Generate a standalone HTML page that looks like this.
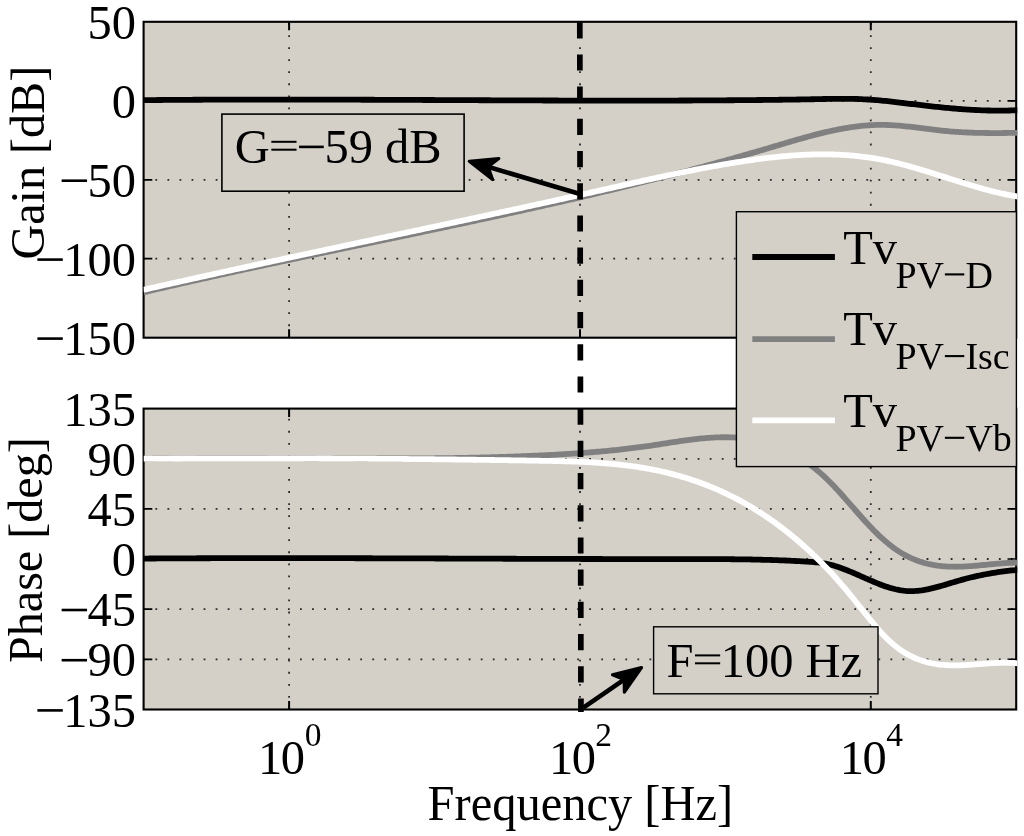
<!DOCTYPE html>
<html><head><meta charset="utf-8"><style>
html,body{margin:0;padding:0;background:#fff;overflow:hidden;}
svg{display:block;will-change:transform;}
text{font-family:"Liberation Serif",serif;fill:#000;}
</style></head><body>
<svg width="1024" height="836" viewBox="0 0 1024 836">
<defs><clipPath id="c1"><rect x="143.6" y="21.8" width="873.7" height="315.9"/></clipPath><clipPath id="c2"><rect x="143.6" y="408.6" width="873.7" height="300.9"/></clipPath></defs>
<rect x="0" y="0" width="1024" height="836" fill="#fff"/>
<rect x="143.6" y="21.8" width="872.6" height="315.9" fill="#d4d0c8"/>
<g stroke="#2a2a2a" stroke-width="1.8" stroke-dasharray="1.8 10.25" fill="none">
<path d="M143.6 100.8H1016.2" stroke-dashoffset="-11.8"/>
<path d="M143.6 179.8H1016.2" stroke-dashoffset="-11.8"/>
<path d="M143.6 258.7H1016.2" stroke-dashoffset="-11.8"/>
<path d="M289.1 21.8V337.7" stroke-dashoffset="-1.3"/>
<path d="M580.0 21.8V337.7" stroke-dashoffset="-1.3"/>
<path d="M870.8 21.8V337.7" stroke-dashoffset="-1.3"/>
</g>
<g stroke="#000" fill="none"><rect x="143.6" y="21.8" width="872.6" height="315.9" stroke-width="2.1"/></g>
<g stroke="#000" fill="none"><path stroke-width="1.7" d="M143.6 100.8h8.7M1016.2 100.8h-8.7M143.6 179.8h8.7M1016.2 179.8h-8.7M143.6 258.7h8.7M1016.2 258.7h-8.7"/><path stroke-width="2" d="M289.1 21.8v8.5M289.1 337.7v-8.5M580.0 21.8v8.5M580.0 337.7v-8.5M870.8 21.8v8.5M870.8 337.7v-8.5"/></g>
<g clip-path="url(#c1)" fill="none" stroke-width="5.8" stroke-linejoin="round">
<path d="M143.6 100.13 L145.6 100.12 L147.6 100.10 L149.6 100.08 L151.6 100.06 L153.6 100.04 L155.6 100.03 L157.6 100.01 L159.6 99.99 L161.6 99.98 L163.6 99.96 L165.6 99.95 L167.6 99.93 L169.6 99.92 L171.6 99.90 L173.6 99.89 L175.6 99.88 L177.6 99.86 L179.6 99.85 L181.6 99.84 L183.6 99.83 L185.6 99.81 L187.6 99.80 L189.6 99.79 L191.6 99.78 L193.6 99.77 L195.6 99.76 L197.6 99.75 L199.6 99.74 L201.6 99.73 L203.6 99.72 L205.6 99.71 L207.6 99.70 L209.6 99.70 L211.6 99.69 L213.6 99.68 L215.6 99.67 L217.6 99.66 L219.6 99.66 L221.6 99.65 L223.6 99.65 L225.6 99.64 L227.6 99.63 L229.6 99.63 L231.6 99.62 L233.6 99.62 L235.6 99.61 L237.6 99.61 L239.6 99.60 L241.6 99.60 L243.6 99.60 L245.6 99.59 L247.6 99.59 L249.6 99.59 L251.6 99.58 L253.6 99.58 L255.6 99.58 L257.6 99.58 L259.6 99.58 L261.6 99.57 L263.6 99.57 L265.6 99.57 L267.6 99.57 L269.6 99.57 L271.6 99.57 L273.6 99.57 L275.6 99.57 L277.6 99.57 L279.6 99.57 L281.6 99.57 L283.6 99.57 L285.6 99.57 L287.6 99.57 L289.6 99.57 L291.6 99.58 L293.6 99.58 L295.6 99.58 L297.6 99.58 L299.6 99.58 L301.6 99.59 L303.6 99.59 L305.6 99.59 L307.6 99.59 L309.6 99.60 L311.6 99.60 L313.6 99.60 L315.6 99.61 L317.6 99.61 L319.6 99.62 L321.6 99.62 L323.6 99.62 L325.6 99.63 L327.6 99.63 L329.6 99.64 L331.6 99.64 L333.6 99.65 L335.6 99.65 L337.6 99.66 L339.6 99.66 L341.6 99.67 L343.6 99.68 L345.6 99.68 L347.6 99.69 L349.6 99.69 L351.6 99.70 L353.6 99.71 L355.6 99.71 L357.6 99.72 L359.6 99.72 L361.6 99.73 L363.6 99.74 L365.6 99.75 L367.6 99.75 L369.6 99.76 L371.6 99.77 L373.6 99.77 L375.6 99.78 L377.6 99.79 L379.6 99.80 L381.6 99.80 L383.6 99.81 L385.6 99.82 L387.6 99.83 L389.6 99.84 L391.6 99.84 L393.6 99.85 L395.6 99.86 L397.6 99.87 L399.6 99.88 L401.6 99.88 L403.6 99.89 L405.6 99.90 L407.6 99.91 L409.6 99.92 L411.6 99.93 L413.6 99.94 L415.6 99.94 L417.6 99.95 L419.6 99.96 L421.6 99.97 L423.6 99.98 L425.6 99.99 L427.6 100.00 L429.6 100.01 L431.6 100.02 L433.6 100.02 L435.6 100.03 L437.6 100.04 L439.6 100.05 L441.6 100.06 L443.6 100.07 L445.6 100.08 L447.6 100.09 L449.6 100.10 L451.6 100.11 L453.6 100.12 L455.6 100.12 L457.6 100.13 L459.6 100.14 L461.6 100.15 L463.6 100.16 L465.6 100.17 L467.6 100.18 L469.6 100.19 L471.6 100.20 L473.6 100.21 L475.6 100.21 L477.6 100.22 L479.6 100.23 L481.6 100.24 L483.6 100.25 L485.6 100.26 L487.6 100.27 L489.6 100.27 L491.6 100.28 L493.6 100.29 L495.6 100.30 L497.6 100.31 L499.6 100.32 L501.6 100.33 L503.6 100.33 L505.6 100.34 L507.6 100.35 L509.6 100.36 L511.6 100.37 L513.6 100.37 L515.6 100.38 L517.6 100.39 L519.6 100.40 L521.6 100.40 L523.6 100.41 L525.6 100.42 L527.6 100.43 L529.6 100.43 L531.6 100.44 L533.6 100.45 L535.6 100.45 L537.6 100.46 L539.6 100.47 L541.6 100.47 L543.6 100.48 L545.6 100.49 L547.6 100.49 L549.6 100.50 L551.6 100.50 L553.6 100.51 L555.6 100.52 L557.6 100.52 L559.6 100.53 L561.6 100.53 L563.6 100.54 L565.6 100.54 L567.6 100.55 L569.6 100.55 L571.6 100.56 L573.6 100.56 L575.6 100.57 L577.6 100.57 L579.6 100.57 L581.6 100.58 L583.6 100.58 L585.6 100.58 L587.6 100.59 L589.6 100.59 L591.6 100.59 L593.6 100.60 L595.6 100.60 L597.6 100.60 L599.6 100.60 L601.6 100.61 L603.6 100.61 L605.6 100.61 L607.6 100.61 L609.6 100.61 L611.6 100.61 L613.6 100.62 L615.6 100.62 L617.6 100.62 L619.6 100.62 L621.6 100.62 L623.6 100.62 L625.6 100.62 L627.6 100.62 L629.6 100.62 L631.6 100.62 L633.6 100.61 L635.6 100.61 L637.6 100.61 L639.6 100.61 L641.6 100.61 L643.6 100.61 L645.6 100.60 L647.6 100.60 L649.6 100.60 L651.6 100.59 L653.6 100.59 L655.6 100.59 L657.6 100.58 L659.6 100.58 L661.6 100.57 L663.6 100.57 L665.6 100.56 L667.6 100.56 L669.6 100.55 L671.6 100.55 L673.6 100.54 L675.6 100.54 L677.6 100.53 L679.6 100.52 L681.6 100.52 L683.6 100.51 L685.6 100.50 L687.6 100.49 L689.6 100.48 L691.6 100.48 L693.6 100.47 L695.6 100.46 L697.6 100.45 L699.6 100.44 L701.6 100.43 L703.6 100.42 L705.6 100.41 L707.6 100.40 L709.6 100.39 L711.6 100.37 L713.6 100.36 L715.6 100.35 L717.6 100.34 L719.6 100.32 L721.6 100.31 L723.6 100.30 L725.6 100.28 L727.6 100.27 L729.6 100.26 L731.6 100.24 L733.6 100.23 L735.6 100.21 L737.6 100.19 L739.6 100.18 L741.6 100.16 L743.6 100.14 L745.6 100.13 L747.6 100.11 L749.6 100.09 L751.6 100.07 L753.6 100.05 L755.6 100.04 L757.6 100.02 L759.6 100.00 L761.6 99.98 L763.6 99.96 L765.6 99.93 L767.6 99.91 L769.6 99.89 L771.6 99.87 L773.6 99.85 L775.6 99.82 L777.6 99.80 L779.6 99.77 L781.6 99.75 L783.6 99.72 L785.6 99.69 L787.6 99.67 L789.6 99.64 L791.6 99.61 L793.6 99.58 L795.6 99.55 L797.6 99.52 L799.6 99.48 L801.6 99.45 L803.6 99.42 L805.6 99.38 L807.6 99.34 L809.6 99.30 L811.6 99.27 L813.6 99.23 L815.6 99.18 L817.6 99.14 L819.6 99.10 L821.6 99.06 L823.6 99.02 L825.6 98.98 L827.6 98.94 L829.6 98.90 L831.6 98.87 L833.6 98.84 L835.6 98.82 L837.6 98.80 L839.6 98.78 L841.6 98.78 L843.6 98.78 L845.6 98.79 L847.6 98.80 L849.6 98.83 L851.6 98.86 L853.6 98.90 L855.6 98.96 L857.6 99.02 L859.6 99.10 L861.6 99.18 L863.6 99.28 L865.6 99.39 L867.6 99.50 L869.6 99.63 L871.6 99.77 L873.6 99.91 L875.6 100.07 L877.6 100.23 L879.6 100.41 L881.6 100.59 L883.6 100.78 L885.6 100.98 L887.6 101.18 L889.6 101.40 L891.6 101.61 L893.6 101.84 L895.6 102.07 L897.6 102.30 L899.6 102.54 L901.6 102.78 L903.6 103.02 L905.6 103.27 L907.6 103.51 L909.6 103.76 L911.6 104.00 L913.6 104.24 L915.6 104.49 L917.6 104.73 L919.6 104.96 L921.6 105.20 L923.6 105.43 L925.6 105.66 L927.6 105.89 L929.6 106.12 L931.6 106.34 L933.6 106.56 L935.6 106.77 L937.6 106.98 L939.6 107.19 L941.6 107.39 L943.6 107.59 L945.6 107.78 L947.6 107.97 L949.6 108.15 L951.6 108.33 L953.6 108.51 L955.6 108.67 L957.6 108.84 L959.6 108.99 L961.6 109.14 L963.6 109.29 L965.6 109.43 L967.6 109.56 L969.6 109.68 L971.6 109.80 L973.6 109.91 L975.6 110.02 L977.6 110.11 L979.6 110.20 L981.6 110.28 L983.6 110.35 L985.6 110.42 L987.6 110.48 L989.6 110.52 L991.6 110.56 L993.6 110.59 L995.6 110.61 L997.6 110.62 L999.6 110.62 L1001.6 110.62 L1003.6 110.60 L1005.6 110.57 L1007.6 110.53 L1009.6 110.48 L1011.6 110.42 L1013.6 110.35 L1015.6 110.27 L1017.6 110.18 L1018.0 110.16" stroke="#000"/>
<path d="M143.6 292.30 L145.6 291.82 L147.6 291.35 L149.6 290.88 L151.6 290.41 L153.6 289.94 L155.6 289.48 L157.6 289.01 L159.6 288.54 L161.6 288.08 L163.6 287.62 L165.6 287.15 L167.6 286.69 L169.6 286.23 L171.6 285.77 L173.6 285.31 L175.6 284.85 L177.6 284.39 L179.6 283.94 L181.6 283.48 L183.6 283.02 L185.6 282.57 L187.6 282.12 L189.6 281.66 L191.6 281.21 L193.6 280.76 L195.6 280.31 L197.6 279.86 L199.6 279.41 L201.6 278.96 L203.6 278.51 L205.6 278.07 L207.6 277.62 L209.6 277.17 L211.6 276.73 L213.6 276.28 L215.6 275.84 L217.6 275.40 L219.6 274.95 L221.6 274.51 L223.6 274.07 L225.6 273.63 L227.6 273.19 L229.6 272.75 L231.6 272.31 L233.6 271.88 L235.6 271.44 L237.6 271.00 L239.6 270.57 L241.6 270.13 L243.6 269.69 L245.6 269.26 L247.6 268.83 L249.6 268.39 L251.6 267.96 L253.6 267.53 L255.6 267.09 L257.6 266.66 L259.6 266.23 L261.6 265.80 L263.6 265.37 L265.6 264.94 L267.6 264.51 L269.6 264.08 L271.6 263.65 L273.6 263.23 L275.6 262.80 L277.6 262.37 L279.6 261.95 L281.6 261.52 L283.6 261.09 L285.6 260.67 L287.6 260.24 L289.6 259.82 L291.6 259.39 L293.6 258.97 L295.6 258.54 L297.6 258.12 L299.6 257.70 L301.6 257.27 L303.6 256.85 L305.6 256.43 L307.6 256.01 L309.6 255.59 L311.6 255.16 L313.6 254.74 L315.6 254.32 L317.6 253.90 L319.6 253.48 L321.6 253.06 L323.6 252.64 L325.6 252.22 L327.6 251.80 L329.6 251.38 L331.6 250.96 L333.6 250.54 L335.6 250.12 L337.6 249.70 L339.6 249.28 L341.6 248.86 L343.6 248.45 L345.6 248.03 L347.6 247.61 L349.6 247.19 L351.6 246.77 L353.6 246.35 L355.6 245.94 L357.6 245.52 L359.6 245.10 L361.6 244.68 L363.6 244.26 L365.6 243.85 L367.6 243.43 L369.6 243.01 L371.6 242.59 L373.6 242.17 L375.6 241.76 L377.6 241.34 L379.6 240.92 L381.6 240.50 L383.6 240.08 L385.6 239.67 L387.6 239.25 L389.6 238.83 L391.6 238.41 L393.6 237.99 L395.6 237.57 L397.6 237.15 L399.6 236.74 L401.6 236.32 L403.6 235.90 L405.6 235.48 L407.6 235.06 L409.6 234.64 L411.6 234.22 L413.6 233.80 L415.6 233.38 L417.6 232.96 L419.6 232.54 L421.6 232.12 L423.6 231.70 L425.6 231.27 L427.6 230.85 L429.6 230.43 L431.6 230.01 L433.6 229.59 L435.6 229.16 L437.6 228.74 L439.6 228.32 L441.6 227.89 L443.6 227.47 L445.6 227.05 L447.6 226.62 L449.6 226.20 L451.6 225.77 L453.6 225.35 L455.6 224.92 L457.6 224.49 L459.6 224.07 L461.6 223.64 L463.6 223.21 L465.6 222.79 L467.6 222.36 L469.6 221.93 L471.6 221.50 L473.6 221.07 L475.6 220.64 L477.6 220.21 L479.6 219.78 L481.6 219.35 L483.6 218.91 L485.6 218.48 L487.6 218.05 L489.6 217.62 L491.6 217.18 L493.6 216.75 L495.6 216.31 L497.6 215.88 L499.6 215.44 L501.6 215.00 L503.6 214.57 L505.6 214.13 L507.6 213.69 L509.6 213.25 L511.6 212.81 L513.6 212.37 L515.6 211.93 L517.6 211.49 L519.6 211.05 L521.6 210.60 L523.6 210.16 L525.6 209.72 L527.6 209.27 L529.6 208.83 L531.6 208.38 L533.6 207.93 L535.6 207.49 L537.6 207.04 L539.6 206.59 L541.6 206.14 L543.6 205.69 L545.6 205.24 L547.6 204.78 L549.6 204.33 L551.6 203.88 L553.6 203.42 L555.6 202.97 L557.6 202.51 L559.6 202.06 L561.6 201.60 L563.6 201.14 L565.6 200.68 L567.6 200.22 L569.6 199.76 L571.6 199.30 L573.6 198.83 L575.6 198.37 L577.6 197.91 L579.6 197.44 L581.6 196.97 L583.6 196.51 L585.6 196.04 L587.6 195.57 L589.6 195.10 L591.6 194.63 L593.6 194.16 L595.6 193.68 L597.6 193.21 L599.6 192.73 L601.6 192.26 L603.6 191.78 L605.6 191.30 L607.6 190.82 L609.6 190.34 L611.6 189.86 L613.6 189.38 L615.6 188.90 L617.6 188.41 L619.6 187.93 L621.6 187.44 L623.6 186.96 L625.6 186.47 L627.6 185.98 L629.6 185.49 L631.6 184.99 L633.6 184.50 L635.6 184.01 L637.6 183.51 L639.6 183.01 L641.6 182.52 L643.6 182.02 L645.6 181.52 L647.6 181.02 L649.6 180.51 L651.6 180.01 L653.6 179.51 L655.6 179.00 L657.6 178.49 L659.6 177.98 L661.6 177.47 L663.6 176.96 L665.6 176.45 L667.6 175.94 L669.6 175.42 L671.6 174.91 L673.6 174.39 L675.6 173.87 L677.6 173.35 L679.6 172.83 L681.6 172.30 L683.6 171.78 L685.6 171.25 L687.6 170.73 L689.6 170.20 L691.6 169.67 L693.6 169.14 L695.6 168.61 L697.6 168.07 L699.6 167.54 L701.6 167.00 L703.6 166.46 L705.6 165.92 L707.6 165.38 L709.6 164.84 L711.6 164.29 L713.6 163.75 L715.6 163.20 L717.6 162.65 L719.6 162.10 L721.6 161.55 L723.6 161.00 L725.6 160.44 L727.6 159.89 L729.6 159.33 L731.6 158.77 L733.6 158.21 L735.6 157.65 L737.6 157.08 L739.6 156.52 L741.6 155.95 L743.6 155.38 L745.6 154.81 L747.6 154.24 L749.6 153.66 L751.6 153.09 L753.6 152.51 L755.6 151.93 L757.6 151.35 L759.6 150.77 L761.6 150.19 L763.6 149.60 L765.6 149.02 L767.6 148.43 L769.6 147.84 L771.6 147.24 L773.6 146.65 L775.6 146.06 L777.6 145.46 L779.6 144.87 L781.6 144.27 L783.6 143.68 L785.6 143.08 L787.6 142.49 L789.6 141.90 L791.6 141.32 L793.6 140.74 L795.6 140.16 L797.6 139.58 L799.6 139.01 L801.6 138.44 L803.6 137.88 L805.6 137.33 L807.6 136.78 L809.6 136.24 L811.6 135.70 L813.6 135.17 L815.6 134.65 L817.6 134.14 L819.6 133.64 L821.6 133.15 L823.6 132.66 L825.6 132.19 L827.6 131.73 L829.6 131.27 L831.6 130.83 L833.6 130.41 L835.6 129.99 L837.6 129.59 L839.6 129.20 L841.6 128.82 L843.6 128.46 L845.6 128.11 L847.6 127.78 L849.6 127.47 L851.6 127.16 L853.6 126.88 L855.6 126.61 L857.6 126.36 L859.6 126.13 L861.6 125.92 L863.6 125.72 L865.6 125.55 L867.6 125.39 L869.6 125.25 L871.6 125.14 L873.6 125.04 L875.6 124.97 L877.6 124.91 L879.6 124.88 L881.6 124.88 L883.6 124.89 L885.6 124.93 L887.6 124.99 L889.6 125.07 L891.6 125.17 L893.6 125.29 L895.6 125.42 L897.6 125.57 L899.6 125.73 L901.6 125.91 L903.6 126.10 L905.6 126.31 L907.6 126.52 L909.6 126.74 L911.6 126.97 L913.6 127.21 L915.6 127.45 L917.6 127.70 L919.6 127.95 L921.6 128.20 L923.6 128.46 L925.6 128.71 L927.6 128.96 L929.6 129.21 L931.6 129.46 L933.6 129.70 L935.6 129.94 L937.6 130.17 L939.6 130.40 L941.6 130.61 L943.6 130.81 L945.6 131.01 L947.6 131.19 L949.6 131.36 L951.6 131.53 L953.6 131.68 L955.6 131.82 L957.6 131.96 L959.6 132.08 L961.6 132.20 L963.6 132.31 L965.6 132.41 L967.6 132.50 L969.6 132.59 L971.6 132.66 L973.6 132.73 L975.6 132.79 L977.6 132.85 L979.6 132.89 L981.6 132.94 L983.6 132.97 L985.6 133.00 L987.6 133.02 L989.6 133.04 L991.6 133.05 L993.6 133.06 L995.6 133.06 L997.6 133.05 L999.6 133.05 L1001.6 133.03 L1003.6 133.02 L1005.6 133.00 L1007.6 132.97 L1009.6 132.95 L1011.6 132.92 L1013.6 132.88 L1015.6 132.85 L1017.6 132.81 L1018.0 132.80" stroke="#808080"/>
<path d="M143.6 289.77 L145.6 289.32 L147.6 288.86 L149.6 288.41 L151.6 287.95 L153.6 287.50 L155.6 287.05 L157.6 286.60 L159.6 286.14 L161.6 285.69 L163.6 285.24 L165.6 284.79 L167.6 284.34 L169.6 283.89 L171.6 283.44 L173.6 283.00 L175.6 282.55 L177.6 282.10 L179.6 281.65 L181.6 281.21 L183.6 280.76 L185.6 280.31 L187.6 279.87 L189.6 279.42 L191.6 278.98 L193.6 278.53 L195.6 278.09 L197.6 277.65 L199.6 277.20 L201.6 276.76 L203.6 276.32 L205.6 275.88 L207.6 275.43 L209.6 274.99 L211.6 274.55 L213.6 274.11 L215.6 273.67 L217.6 273.23 L219.6 272.79 L221.6 272.35 L223.6 271.91 L225.6 271.47 L227.6 271.03 L229.6 270.60 L231.6 270.16 L233.6 269.72 L235.6 269.28 L237.6 268.85 L239.6 268.41 L241.6 267.97 L243.6 267.54 L245.6 267.10 L247.6 266.67 L249.6 266.23 L251.6 265.80 L253.6 265.36 L255.6 264.93 L257.6 264.49 L259.6 264.06 L261.6 263.63 L263.6 263.19 L265.6 262.76 L267.6 262.33 L269.6 261.90 L271.6 261.46 L273.6 261.03 L275.6 260.60 L277.6 260.17 L279.6 259.74 L281.6 259.30 L283.6 258.87 L285.6 258.44 L287.6 258.01 L289.6 257.58 L291.6 257.15 L293.6 256.72 L295.6 256.29 L297.6 255.86 L299.6 255.43 L301.6 255.00 L303.6 254.57 L305.6 254.14 L307.6 253.72 L309.6 253.29 L311.6 252.86 L313.6 252.43 L315.6 252.00 L317.6 251.57 L319.6 251.14 L321.6 250.72 L323.6 250.29 L325.6 249.86 L327.6 249.43 L329.6 249.01 L331.6 248.58 L333.6 248.15 L335.6 247.72 L337.6 247.30 L339.6 246.87 L341.6 246.44 L343.6 246.02 L345.6 245.59 L347.6 245.16 L349.6 244.74 L351.6 244.31 L353.6 243.88 L355.6 243.46 L357.6 243.03 L359.6 242.60 L361.6 242.18 L363.6 241.75 L365.6 241.33 L367.6 240.90 L369.6 240.47 L371.6 240.05 L373.6 239.62 L375.6 239.19 L377.6 238.77 L379.6 238.34 L381.6 237.92 L383.6 237.49 L385.6 237.06 L387.6 236.64 L389.6 236.21 L391.6 235.79 L393.6 235.36 L395.6 234.93 L397.6 234.51 L399.6 234.08 L401.6 233.65 L403.6 233.23 L405.6 232.80 L407.6 232.38 L409.6 231.95 L411.6 231.52 L413.6 231.10 L415.6 230.67 L417.6 230.24 L419.6 229.82 L421.6 229.39 L423.6 228.96 L425.6 228.53 L427.6 228.11 L429.6 227.68 L431.6 227.25 L433.6 226.83 L435.6 226.40 L437.6 225.97 L439.6 225.54 L441.6 225.11 L443.6 224.69 L445.6 224.26 L447.6 223.83 L449.6 223.40 L451.6 222.97 L453.6 222.54 L455.6 222.12 L457.6 221.69 L459.6 221.26 L461.6 220.83 L463.6 220.40 L465.6 219.97 L467.6 219.54 L469.6 219.11 L471.6 218.68 L473.6 218.25 L475.6 217.82 L477.6 217.39 L479.6 216.96 L481.6 216.52 L483.6 216.09 L485.6 215.66 L487.6 215.23 L489.6 214.80 L491.6 214.36 L493.6 213.93 L495.6 213.50 L497.6 213.07 L499.6 212.63 L501.6 212.20 L503.6 211.77 L505.6 211.33 L507.6 210.90 L509.6 210.46 L511.6 210.03 L513.6 209.59 L515.6 209.16 L517.6 208.72 L519.6 208.29 L521.6 207.85 L523.6 207.41 L525.6 206.98 L527.6 206.54 L529.6 206.10 L531.6 205.67 L533.6 205.23 L535.6 204.79 L537.6 204.35 L539.6 203.91 L541.6 203.47 L543.6 203.03 L545.6 202.59 L547.6 202.15 L549.6 201.71 L551.6 201.27 L553.6 200.83 L555.6 200.39 L557.6 199.95 L559.6 199.50 L561.6 199.06 L563.6 198.62 L565.6 198.17 L567.6 197.73 L569.6 197.29 L571.6 196.84 L573.6 196.40 L575.6 195.95 L577.6 195.50 L579.6 195.06 L581.6 194.61 L583.6 194.16 L585.6 193.72 L587.6 193.27 L589.6 192.82 L591.6 192.37 L593.6 191.92 L595.6 191.47 L597.6 191.02 L599.6 190.57 L601.6 190.12 L603.6 189.67 L605.6 189.22 L607.6 188.77 L609.6 188.31 L611.6 187.86 L613.6 187.41 L615.6 186.96 L617.6 186.50 L619.6 186.05 L621.6 185.60 L623.6 185.15 L625.6 184.70 L627.6 184.25 L629.6 183.80 L631.6 183.35 L633.6 182.90 L635.6 182.45 L637.6 182.00 L639.6 181.55 L641.6 181.11 L643.6 180.66 L645.6 180.22 L647.6 179.78 L649.6 179.34 L651.6 178.90 L653.6 178.46 L655.6 178.02 L657.6 177.58 L659.6 177.15 L661.6 176.72 L663.6 176.29 L665.6 175.86 L667.6 175.43 L669.6 175.00 L671.6 174.58 L673.6 174.16 L675.6 173.74 L677.6 173.32 L679.6 172.91 L681.6 172.49 L683.6 172.08 L685.6 171.68 L687.6 171.27 L689.6 170.87 L691.6 170.47 L693.6 170.07 L695.6 169.68 L697.6 169.28 L699.6 168.90 L701.6 168.51 L703.6 168.13 L705.6 167.75 L707.6 167.37 L709.6 167.00 L711.6 166.63 L713.6 166.26 L715.6 165.90 L717.6 165.54 L719.6 165.18 L721.6 164.83 L723.6 164.48 L725.6 164.14 L727.6 163.80 L729.6 163.46 L731.6 163.13 L733.6 162.80 L735.6 162.48 L737.6 162.16 L739.6 161.84 L741.6 161.53 L743.6 161.23 L745.6 160.92 L747.6 160.63 L749.6 160.33 L751.6 160.05 L753.6 159.76 L755.6 159.49 L757.6 159.22 L759.6 158.95 L761.6 158.69 L763.6 158.43 L765.6 158.19 L767.6 157.94 L769.6 157.71 L771.6 157.48 L773.6 157.26 L775.6 157.04 L777.6 156.83 L779.6 156.63 L781.6 156.44 L783.6 156.25 L785.6 156.07 L787.6 155.90 L789.6 155.74 L791.6 155.58 L793.6 155.43 L795.6 155.30 L797.6 155.17 L799.6 155.05 L801.6 154.93 L803.6 154.83 L805.6 154.74 L807.6 154.65 L809.6 154.58 L811.6 154.51 L813.6 154.46 L815.6 154.42 L817.6 154.38 L819.6 154.36 L821.6 154.34 L823.6 154.34 L825.6 154.35 L827.6 154.37 L829.6 154.40 L831.6 154.44 L833.6 154.49 L835.6 154.56 L837.6 154.64 L839.6 154.72 L841.6 154.82 L843.6 154.94 L845.6 155.06 L847.6 155.20 L849.6 155.35 L851.6 155.52 L853.6 155.69 L855.6 155.88 L857.6 156.09 L859.6 156.31 L861.6 156.54 L863.6 156.78 L865.6 157.04 L867.6 157.32 L869.6 157.60 L871.6 157.91 L873.6 158.22 L875.6 158.55 L877.6 158.90 L879.6 159.26 L881.6 159.64 L883.6 160.03 L885.6 160.44 L887.6 160.87 L889.6 161.30 L891.6 161.76 L893.6 162.22 L895.6 162.70 L897.6 163.19 L899.6 163.69 L901.6 164.20 L903.6 164.73 L905.6 165.26 L907.6 165.81 L909.6 166.36 L911.6 166.92 L913.6 167.49 L915.6 168.07 L917.6 168.66 L919.6 169.25 L921.6 169.85 L923.6 170.46 L925.6 171.07 L927.6 171.68 L929.6 172.30 L931.6 172.93 L933.6 173.56 L935.6 174.19 L937.6 174.82 L939.6 175.46 L941.6 176.09 L943.6 176.73 L945.6 177.37 L947.6 178.01 L949.6 178.65 L951.6 179.29 L953.6 179.92 L955.6 180.56 L957.6 181.19 L959.6 181.82 L961.6 182.44 L963.6 183.06 L965.6 183.68 L967.6 184.29 L969.6 184.90 L971.6 185.50 L973.6 186.09 L975.6 186.68 L977.6 187.26 L979.6 187.83 L981.6 188.40 L983.6 188.95 L985.6 189.50 L987.6 190.03 L989.6 190.56 L991.6 191.07 L993.6 191.58 L995.6 192.07 L997.6 192.55 L999.6 193.01 L1001.6 193.47 L1003.6 193.91 L1005.6 194.33 L1007.6 194.74 L1009.6 195.14 L1011.6 195.52 L1013.6 195.88 L1015.6 196.23 L1017.6 196.56 L1018.0 196.62" stroke="#fff"/>
</g>
<rect x="143.6" y="408.6" width="872.6" height="300.9" fill="#d4d0c8"/>
<g stroke="#2a2a2a" stroke-width="1.8" stroke-dasharray="1.8 10.25" fill="none">
<path d="M143.6 458.8H1016.2" stroke-dashoffset="-11.8"/>
<path d="M143.6 508.9H1016.2" stroke-dashoffset="-11.8"/>
<path d="M143.6 559.0H1016.2" stroke-dashoffset="-11.8"/>
<path d="M143.6 609.1H1016.2" stroke-dashoffset="-11.8"/>
<path d="M143.6 659.3H1016.2" stroke-dashoffset="-11.8"/>
<path d="M289.1 408.6V709.5" stroke-dashoffset="-10.2"/>
<path d="M580.0 408.6V709.5" stroke-dashoffset="-10.2"/>
<path d="M870.8 408.6V709.5" stroke-dashoffset="-10.2"/>
</g>
<g stroke="#000" fill="none"><rect x="143.6" y="408.6" width="872.6" height="300.9" stroke-width="2.1"/></g>
<g stroke="#000" fill="none"><path stroke-width="1.7" d="M143.6 458.8h8.7M1016.2 458.8h-8.7M143.6 508.9h8.7M1016.2 508.9h-8.7M143.6 559.0h8.7M1016.2 559.0h-8.7M143.6 609.1h8.7M1016.2 609.1h-8.7M143.6 659.3h8.7M1016.2 659.3h-8.7"/><path stroke-width="2" d="M289.1 408.6v8.5M289.1 709.5v-8.5M580.0 408.6v8.5M580.0 709.5v-8.5M870.8 408.6v8.5M870.8 709.5v-8.5"/></g>
<g clip-path="url(#c2)" fill="none" stroke-width="5.8" stroke-linejoin="round">
<path d="M143.6 558.56 L145.6 558.54 L147.6 558.53 L149.6 558.52 L151.6 558.50 L153.6 558.49 L155.6 558.48 L157.6 558.46 L159.6 558.45 L161.6 558.44 L163.6 558.43 L165.6 558.42 L167.6 558.41 L169.6 558.40 L171.6 558.39 L173.6 558.38 L175.6 558.37 L177.6 558.36 L179.6 558.35 L181.6 558.34 L183.6 558.33 L185.6 558.32 L187.6 558.31 L189.6 558.30 L191.6 558.29 L193.6 558.29 L195.6 558.28 L197.6 558.27 L199.6 558.26 L201.6 558.26 L203.6 558.25 L205.6 558.24 L207.6 558.24 L209.6 558.23 L211.6 558.22 L213.6 558.22 L215.6 558.21 L217.6 558.21 L219.6 558.20 L221.6 558.20 L223.6 558.19 L225.6 558.19 L227.6 558.18 L229.6 558.18 L231.6 558.18 L233.6 558.17 L235.6 558.17 L237.6 558.16 L239.6 558.16 L241.6 558.16 L243.6 558.15 L245.6 558.15 L247.6 558.15 L249.6 558.15 L251.6 558.14 L253.6 558.14 L255.6 558.14 L257.6 558.14 L259.6 558.14 L261.6 558.14 L263.6 558.13 L265.6 558.13 L267.6 558.13 L269.6 558.13 L271.6 558.13 L273.6 558.13 L275.6 558.13 L277.6 558.13 L279.6 558.13 L281.6 558.13 L283.6 558.13 L285.6 558.13 L287.6 558.13 L289.6 558.13 L291.6 558.13 L293.6 558.13 L295.6 558.14 L297.6 558.14 L299.6 558.14 L301.6 558.14 L303.6 558.14 L305.6 558.14 L307.6 558.15 L309.6 558.15 L311.6 558.15 L313.6 558.15 L315.6 558.16 L317.6 558.16 L319.6 558.16 L321.6 558.16 L323.6 558.17 L325.6 558.17 L327.6 558.17 L329.6 558.18 L331.6 558.18 L333.6 558.18 L335.6 558.19 L337.6 558.19 L339.6 558.19 L341.6 558.20 L343.6 558.20 L345.6 558.21 L347.6 558.21 L349.6 558.22 L351.6 558.22 L353.6 558.22 L355.6 558.23 L357.6 558.23 L359.6 558.24 L361.6 558.24 L363.6 558.25 L365.6 558.25 L367.6 558.26 L369.6 558.26 L371.6 558.27 L373.6 558.28 L375.6 558.28 L377.6 558.29 L379.6 558.29 L381.6 558.30 L383.6 558.30 L385.6 558.31 L387.6 558.32 L389.6 558.32 L391.6 558.33 L393.6 558.33 L395.6 558.34 L397.6 558.35 L399.6 558.35 L401.6 558.36 L403.6 558.37 L405.6 558.37 L407.6 558.38 L409.6 558.39 L411.6 558.39 L413.6 558.40 L415.6 558.41 L417.6 558.41 L419.6 558.42 L421.6 558.43 L423.6 558.43 L425.6 558.44 L427.6 558.45 L429.6 558.45 L431.6 558.46 L433.6 558.47 L435.6 558.48 L437.6 558.48 L439.6 558.49 L441.6 558.50 L443.6 558.50 L445.6 558.51 L447.6 558.52 L449.6 558.53 L451.6 558.53 L453.6 558.54 L455.6 558.55 L457.6 558.56 L459.6 558.56 L461.6 558.57 L463.6 558.58 L465.6 558.59 L467.6 558.59 L469.6 558.60 L471.6 558.61 L473.6 558.61 L475.6 558.62 L477.6 558.63 L479.6 558.64 L481.6 558.64 L483.6 558.65 L485.6 558.66 L487.6 558.67 L489.6 558.67 L491.6 558.68 L493.6 558.69 L495.6 558.70 L497.6 558.70 L499.6 558.71 L501.6 558.72 L503.6 558.73 L505.6 558.73 L507.6 558.74 L509.6 558.75 L511.6 558.75 L513.6 558.76 L515.6 558.77 L517.6 558.78 L519.6 558.78 L521.6 558.79 L523.6 558.80 L525.6 558.80 L527.6 558.81 L529.6 558.82 L531.6 558.82 L533.6 558.83 L535.6 558.84 L537.6 558.84 L539.6 558.85 L541.6 558.86 L543.6 558.86 L545.6 558.87 L547.6 558.88 L549.6 558.88 L551.6 558.89 L553.6 558.90 L555.6 558.90 L557.6 558.91 L559.6 558.91 L561.6 558.92 L563.6 558.93 L565.6 558.93 L567.6 558.94 L569.6 558.94 L571.6 558.95 L573.6 558.95 L575.6 558.96 L577.6 558.96 L579.6 558.97 L581.6 558.98 L583.6 558.98 L585.6 558.99 L587.6 558.99 L589.6 559.00 L591.6 559.00 L593.6 559.00 L595.6 559.01 L597.6 559.01 L599.6 559.02 L601.6 559.02 L603.6 559.03 L605.6 559.03 L607.6 559.03 L609.6 559.04 L611.6 559.04 L613.6 559.05 L615.6 559.05 L617.6 559.05 L619.6 559.06 L621.6 559.06 L623.6 559.06 L625.6 559.07 L627.6 559.07 L629.6 559.07 L631.6 559.07 L633.6 559.08 L635.6 559.08 L637.6 559.08 L639.6 559.08 L641.6 559.09 L643.6 559.09 L645.6 559.09 L647.6 559.09 L649.6 559.09 L651.6 559.09 L653.6 559.09 L655.6 559.10 L657.6 559.10 L659.6 559.10 L661.6 559.10 L663.6 559.10 L665.6 559.10 L667.6 559.10 L669.6 559.10 L671.6 559.10 L673.6 559.10 L675.6 559.10 L677.6 559.10 L679.6 559.10 L681.6 559.10 L683.6 559.09 L685.6 559.09 L687.6 559.09 L689.6 559.09 L691.6 559.09 L693.6 559.09 L695.6 559.09 L697.6 559.09 L699.6 559.09 L701.6 559.10 L703.6 559.10 L705.6 559.10 L707.6 559.11 L709.6 559.11 L711.6 559.12 L713.6 559.12 L715.6 559.13 L717.6 559.14 L719.6 559.15 L721.6 559.16 L723.6 559.17 L725.6 559.19 L727.6 559.20 L729.6 559.22 L731.6 559.24 L733.6 559.25 L735.6 559.28 L737.6 559.30 L739.6 559.32 L741.6 559.35 L743.6 559.38 L745.6 559.41 L747.6 559.44 L749.6 559.47 L751.6 559.51 L753.6 559.55 L755.6 559.59 L757.6 559.63 L759.6 559.68 L761.6 559.73 L763.6 559.78 L765.6 559.83 L767.6 559.89 L769.6 559.95 L771.6 560.01 L773.6 560.07 L775.6 560.14 L777.6 560.21 L779.6 560.28 L781.6 560.36 L783.6 560.44 L785.6 560.52 L787.6 560.61 L789.6 560.70 L791.6 560.79 L793.6 560.89 L795.6 560.99 L797.6 561.09 L799.6 561.20 L801.6 561.31 L803.6 561.42 L805.6 561.54 L807.6 561.66 L809.6 561.79 L811.6 561.93 L813.6 562.09 L815.6 562.27 L817.6 562.48 L819.6 562.72 L821.6 562.99 L823.6 563.30 L825.6 563.65 L827.6 564.05 L829.6 564.51 L831.6 565.01 L833.6 565.57 L835.6 566.16 L837.6 566.80 L839.6 567.48 L841.6 568.19 L843.6 568.93 L845.6 569.70 L847.6 570.50 L849.6 571.32 L851.6 572.16 L853.6 573.01 L855.6 573.88 L857.6 574.76 L859.6 575.64 L861.6 576.53 L863.6 577.42 L865.6 578.31 L867.6 579.19 L869.6 580.06 L871.6 580.93 L873.6 581.77 L875.6 582.60 L877.6 583.41 L879.6 584.20 L881.6 584.96 L883.6 585.69 L885.6 586.39 L887.6 587.05 L889.6 587.67 L891.6 588.25 L893.6 588.79 L895.6 589.28 L897.6 589.72 L899.6 590.10 L901.6 590.43 L903.6 590.70 L905.6 590.90 L907.6 591.04 L909.6 591.12 L911.6 591.13 L913.6 591.08 L915.6 590.97 L917.6 590.81 L919.6 590.59 L921.6 590.33 L923.6 590.02 L925.6 589.68 L927.6 589.29 L929.6 588.87 L931.6 588.42 L933.6 587.93 L935.6 587.42 L937.6 586.89 L939.6 586.34 L941.6 585.77 L943.6 585.19 L945.6 584.60 L947.6 584.00 L949.6 583.40 L951.6 582.80 L953.6 582.20 L955.6 581.60 L957.6 581.01 L959.6 580.44 L961.6 579.88 L963.6 579.33 L965.6 578.80 L967.6 578.28 L969.6 577.78 L971.6 577.29 L973.6 576.82 L975.6 576.36 L977.6 575.91 L979.6 575.48 L981.6 575.06 L983.6 574.66 L985.6 574.27 L987.6 573.90 L989.6 573.54 L991.6 573.19 L993.6 572.86 L995.6 572.54 L997.6 572.24 L999.6 571.95 L1001.6 571.67 L1003.6 571.40 L1005.6 571.15 L1007.6 570.92 L1009.6 570.70 L1011.6 570.49 L1013.6 570.29 L1015.6 570.11 L1017.6 569.94 L1018.0 569.91" stroke="#000"/>
<path d="M143.6 458.67 L145.6 458.64 L147.6 458.60 L149.6 458.56 L151.6 458.53 L153.6 458.49 L155.6 458.46 L157.6 458.43 L159.6 458.40 L161.6 458.37 L163.6 458.34 L165.6 458.32 L167.6 458.29 L169.6 458.27 L171.6 458.24 L173.6 458.22 L175.6 458.20 L177.6 458.18 L179.6 458.16 L181.6 458.14 L183.6 458.12 L185.6 458.10 L187.6 458.09 L189.6 458.07 L191.6 458.06 L193.6 458.05 L195.6 458.03 L197.6 458.02 L199.6 458.01 L201.6 458.00 L203.6 457.99 L205.6 457.98 L207.6 457.98 L209.6 457.97 L211.6 457.96 L213.6 457.96 L215.6 457.95 L217.6 457.95 L219.6 457.95 L221.6 457.94 L223.6 457.94 L225.6 457.94 L227.6 457.94 L229.6 457.94 L231.6 457.94 L233.6 457.94 L235.6 457.94 L237.6 457.94 L239.6 457.95 L241.6 457.95 L243.6 457.95 L245.6 457.96 L247.6 457.96 L249.6 457.97 L251.6 457.97 L253.6 457.98 L255.6 457.98 L257.6 457.99 L259.6 458.00 L261.6 458.01 L263.6 458.01 L265.6 458.02 L267.6 458.03 L269.6 458.04 L271.6 458.05 L273.6 458.06 L275.6 458.07 L277.6 458.08 L279.6 458.09 L281.6 458.10 L283.6 458.11 L285.6 458.12 L287.6 458.13 L289.6 458.14 L291.6 458.15 L293.6 458.16 L295.6 458.17 L297.6 458.18 L299.6 458.19 L301.6 458.20 L303.6 458.21 L305.6 458.23 L307.6 458.24 L309.6 458.25 L311.6 458.26 L313.6 458.27 L315.6 458.28 L317.6 458.29 L319.6 458.30 L321.6 458.31 L323.6 458.33 L325.6 458.34 L327.6 458.35 L329.6 458.36 L331.6 458.37 L333.6 458.38 L335.6 458.39 L337.6 458.40 L339.6 458.41 L341.6 458.41 L343.6 458.42 L345.6 458.43 L347.6 458.44 L349.6 458.45 L351.6 458.45 L353.6 458.46 L355.6 458.47 L357.6 458.48 L359.6 458.48 L361.6 458.49 L363.6 458.49 L365.6 458.50 L367.6 458.50 L369.6 458.50 L371.6 458.51 L373.6 458.51 L375.6 458.51 L377.6 458.51 L379.6 458.52 L381.6 458.52 L383.6 458.52 L385.6 458.52 L387.6 458.51 L389.6 458.51 L391.6 458.51 L393.6 458.51 L395.6 458.50 L397.6 458.50 L399.6 458.49 L401.6 458.49 L403.6 458.48 L405.6 458.47 L407.6 458.47 L409.6 458.46 L411.6 458.45 L413.6 458.44 L415.6 458.43 L417.6 458.41 L419.6 458.40 L421.6 458.39 L423.6 458.37 L425.6 458.36 L427.6 458.34 L429.6 458.32 L431.6 458.30 L433.6 458.28 L435.6 458.26 L437.6 458.24 L439.6 458.22 L441.6 458.20 L443.6 458.17 L445.6 458.15 L447.6 458.12 L449.6 458.09 L451.6 458.06 L453.6 458.03 L455.6 458.00 L457.6 457.97 L459.6 457.94 L461.6 457.90 L463.6 457.87 L465.6 457.83 L467.6 457.79 L469.6 457.75 L471.6 457.71 L473.6 457.67 L475.6 457.63 L477.6 457.58 L479.6 457.54 L481.6 457.49 L483.6 457.44 L485.6 457.39 L487.6 457.34 L489.6 457.29 L491.6 457.23 L493.6 457.18 L495.6 457.12 L497.6 457.06 L499.6 457.00 L501.6 456.94 L503.6 456.88 L505.6 456.82 L507.6 456.75 L509.6 456.68 L511.6 456.61 L513.6 456.54 L515.6 456.47 L517.6 456.40 L519.6 456.32 L521.6 456.25 L523.6 456.17 L525.6 456.09 L527.6 456.01 L529.6 455.92 L531.6 455.84 L533.6 455.75 L535.6 455.66 L537.6 455.57 L539.6 455.48 L541.6 455.39 L543.6 455.29 L545.6 455.19 L547.6 455.09 L549.6 454.99 L551.6 454.89 L553.6 454.78 L555.6 454.67 L557.6 454.56 L559.6 454.45 L561.6 454.33 L563.6 454.21 L565.6 454.09 L567.6 453.97 L569.6 453.84 L571.6 453.72 L573.6 453.58 L575.6 453.45 L577.6 453.31 L579.6 453.17 L581.6 453.03 L583.6 452.88 L585.6 452.73 L587.6 452.58 L589.6 452.42 L591.6 452.26 L593.6 452.10 L595.6 451.93 L597.6 451.76 L599.6 451.58 L601.6 451.41 L603.6 451.22 L605.6 451.04 L607.6 450.85 L609.6 450.65 L611.6 450.45 L613.6 450.25 L615.6 450.04 L617.6 449.83 L619.6 449.62 L621.6 449.40 L623.6 449.17 L625.6 448.94 L627.6 448.71 L629.6 448.47 L631.6 448.23 L633.6 447.98 L635.6 447.72 L637.6 447.47 L639.6 447.20 L641.6 446.93 L643.6 446.66 L645.6 446.38 L647.6 446.10 L649.6 445.81 L651.6 445.51 L653.6 445.21 L655.6 444.91 L657.6 444.60 L659.6 444.29 L661.6 443.98 L663.6 443.67 L665.6 443.36 L667.6 443.05 L669.6 442.74 L671.6 442.43 L673.6 442.12 L675.6 441.82 L677.6 441.52 L679.6 441.23 L681.6 440.94 L683.6 440.65 L685.6 440.38 L687.6 440.11 L689.6 439.84 L691.6 439.59 L693.6 439.35 L695.6 439.11 L697.6 438.89 L699.6 438.67 L701.6 438.47 L703.6 438.29 L705.6 438.11 L707.6 437.95 L709.6 437.80 L711.6 437.67 L713.6 437.56 L715.6 437.46 L717.6 437.38 L719.6 437.32 L721.6 437.27 L723.6 437.25 L725.6 437.25 L727.6 437.26 L729.6 437.30 L731.6 437.36 L733.6 437.45 L735.6 437.55 L737.6 437.68 L739.6 437.84 L741.6 438.02 L743.6 438.23 L745.6 438.46 L747.6 438.73 L749.6 439.02 L751.6 439.34 L753.6 439.69 L755.6 440.07 L757.6 440.48 L759.6 440.92 L761.6 441.40 L763.6 441.91 L765.6 442.45 L767.6 443.02 L769.6 443.64 L771.6 444.28 L773.6 444.97 L775.6 445.69 L777.6 446.45 L779.6 447.25 L781.6 448.08 L783.6 448.96 L785.6 449.88 L787.6 450.84 L789.6 451.84 L791.6 452.88 L793.6 453.97 L795.6 455.10 L797.6 456.28 L799.6 457.50 L801.6 458.77 L803.6 460.08 L805.6 461.44 L807.6 462.85 L809.6 464.31 L811.6 465.82 L813.6 467.38 L815.6 468.98 L817.6 470.65 L819.6 472.36 L821.6 474.12 L823.6 475.94 L825.6 477.82 L827.6 479.74 L829.6 481.73 L831.6 483.76 L833.6 485.84 L835.6 487.97 L837.6 490.13 L839.6 492.32 L841.6 494.54 L843.6 496.79 L845.6 499.05 L847.6 501.33 L849.6 503.62 L851.6 505.91 L853.6 508.21 L855.6 510.50 L857.6 512.78 L859.6 515.04 L861.6 517.29 L863.6 519.52 L865.6 521.72 L867.6 523.89 L869.6 526.02 L871.6 528.11 L873.6 530.16 L875.6 532.16 L877.6 534.12 L879.6 536.03 L881.6 537.89 L883.6 539.69 L885.6 541.44 L887.6 543.13 L889.6 544.75 L891.6 546.32 L893.6 547.82 L895.6 549.25 L897.6 550.62 L899.6 551.91 L901.6 553.14 L903.6 554.30 L905.6 555.40 L907.6 556.44 L909.6 557.42 L911.6 558.34 L913.6 559.20 L915.6 560.01 L917.6 560.76 L919.6 561.46 L921.6 562.10 L923.6 562.70 L925.6 563.25 L927.6 563.75 L929.6 564.21 L931.6 564.62 L933.6 564.99 L935.6 565.32 L937.6 565.62 L939.6 565.87 L941.6 566.09 L943.6 566.27 L945.6 566.42 L947.6 566.54 L949.6 566.63 L951.6 566.69 L953.6 566.72 L955.6 566.73 L957.6 566.71 L959.6 566.67 L961.6 566.61 L963.6 566.53 L965.6 566.43 L967.6 566.32 L969.6 566.19 L971.6 566.05 L973.6 565.90 L975.6 565.74 L977.6 565.56 L979.6 565.39 L981.6 565.20 L983.6 565.01 L985.6 564.82 L987.6 564.63 L989.6 564.44 L991.6 564.25 L993.6 564.06 L995.6 563.88 L997.6 563.70 L999.6 563.54 L1001.6 563.38 L1003.6 563.23 L1005.6 563.10 L1007.6 562.98 L1009.6 562.88 L1011.6 562.79 L1013.6 562.72 L1015.6 562.68 L1017.6 562.65 L1018.0 562.65" stroke="#808080"/>
<path d="M143.6 458.63 L145.6 458.62 L147.6 458.61 L149.6 458.60 L151.6 458.59 L153.6 458.59 L155.6 458.58 L157.6 458.57 L159.6 458.56 L161.6 458.55 L163.6 458.54 L165.6 458.53 L167.6 458.53 L169.6 458.52 L171.6 458.51 L173.6 458.50 L175.6 458.50 L177.6 458.49 L179.6 458.48 L181.6 458.48 L183.6 458.47 L185.6 458.46 L187.6 458.46 L189.6 458.45 L191.6 458.45 L193.6 458.44 L195.6 458.44 L197.6 458.43 L199.6 458.42 L201.6 458.42 L203.6 458.42 L205.6 458.41 L207.6 458.41 L209.6 458.40 L211.6 458.40 L213.6 458.39 L215.6 458.39 L217.6 458.39 L219.6 458.38 L221.6 458.38 L223.6 458.38 L225.6 458.38 L227.6 458.37 L229.6 458.37 L231.6 458.37 L233.6 458.37 L235.6 458.37 L237.6 458.36 L239.6 458.36 L241.6 458.36 L243.6 458.36 L245.6 458.36 L247.6 458.36 L249.6 458.36 L251.6 458.36 L253.6 458.36 L255.6 458.36 L257.6 458.36 L259.6 458.36 L261.6 458.36 L263.6 458.36 L265.6 458.36 L267.6 458.37 L269.6 458.37 L271.6 458.37 L273.6 458.37 L275.6 458.37 L277.6 458.38 L279.6 458.38 L281.6 458.38 L283.6 458.38 L285.6 458.39 L287.6 458.39 L289.6 458.40 L291.6 458.40 L293.6 458.40 L295.6 458.41 L297.6 458.41 L299.6 458.42 L301.6 458.42 L303.6 458.43 L305.6 458.43 L307.6 458.44 L309.6 458.44 L311.6 458.45 L313.6 458.46 L315.6 458.46 L317.6 458.47 L319.6 458.48 L321.6 458.48 L323.6 458.49 L325.6 458.50 L327.6 458.51 L329.6 458.52 L331.6 458.52 L333.6 458.53 L335.6 458.54 L337.6 458.55 L339.6 458.56 L341.6 458.57 L343.6 458.58 L345.6 458.59 L347.6 458.60 L349.6 458.61 L351.6 458.62 L353.6 458.63 L355.6 458.64 L357.6 458.65 L359.6 458.67 L361.6 458.68 L363.6 458.69 L365.6 458.70 L367.6 458.71 L369.6 458.73 L371.6 458.74 L373.6 458.75 L375.6 458.77 L377.6 458.78 L379.6 458.79 L381.6 458.81 L383.6 458.82 L385.6 458.84 L387.6 458.85 L389.6 458.87 L391.6 458.88 L393.6 458.90 L395.6 458.91 L397.6 458.93 L399.6 458.95 L401.6 458.96 L403.6 458.98 L405.6 459.00 L407.6 459.01 L409.6 459.03 L411.6 459.05 L413.6 459.07 L415.6 459.09 L417.6 459.11 L419.6 459.12 L421.6 459.14 L423.6 459.16 L425.6 459.18 L427.6 459.20 L429.6 459.22 L431.6 459.24 L433.6 459.26 L435.6 459.28 L437.6 459.31 L439.6 459.33 L441.6 459.35 L443.6 459.37 L445.6 459.39 L447.6 459.42 L449.6 459.44 L451.6 459.46 L453.6 459.48 L455.6 459.51 L457.6 459.53 L459.6 459.56 L461.6 459.58 L463.6 459.61 L465.6 459.63 L467.6 459.66 L469.6 459.68 L471.6 459.71 L473.6 459.73 L475.6 459.76 L477.6 459.79 L479.6 459.81 L481.6 459.84 L483.6 459.87 L485.6 459.89 L487.6 459.92 L489.6 459.95 L491.6 459.98 L493.6 460.01 L495.6 460.04 L497.6 460.07 L499.6 460.10 L501.6 460.13 L503.6 460.16 L505.6 460.19 L507.6 460.22 L509.6 460.25 L511.6 460.28 L513.6 460.31 L515.6 460.34 L517.6 460.38 L519.6 460.41 L521.6 460.44 L523.6 460.47 L525.6 460.51 L527.6 460.54 L529.6 460.57 L531.6 460.61 L533.6 460.64 L535.6 460.68 L537.6 460.71 L539.6 460.75 L541.6 460.78 L543.6 460.82 L545.6 460.86 L547.6 460.89 L549.6 460.93 L551.6 460.97 L553.6 461.02 L555.6 461.06 L557.6 461.10 L559.6 461.15 L561.6 461.20 L563.6 461.25 L565.6 461.31 L567.6 461.37 L569.6 461.43 L571.6 461.49 L573.6 461.56 L575.6 461.64 L577.6 461.71 L579.6 461.79 L581.6 461.88 L583.6 461.97 L585.6 462.07 L587.6 462.17 L589.6 462.27 L591.6 462.38 L593.6 462.50 L595.6 462.62 L597.6 462.75 L599.6 462.89 L601.6 463.03 L603.6 463.18 L605.6 463.34 L607.6 463.50 L609.6 463.67 L611.6 463.85 L613.6 464.04 L615.6 464.24 L617.6 464.44 L619.6 464.65 L621.6 464.87 L623.6 465.10 L625.6 465.34 L627.6 465.59 L629.6 465.85 L631.6 466.12 L633.6 466.40 L635.6 466.69 L637.6 466.99 L639.6 467.30 L641.6 467.62 L643.6 467.95 L645.6 468.29 L647.6 468.65 L649.6 469.02 L651.6 469.40 L653.6 469.79 L655.6 470.19 L657.6 470.61 L659.6 471.03 L661.6 471.48 L663.6 471.93 L665.6 472.40 L667.6 472.88 L669.6 473.37 L671.6 473.88 L673.6 474.40 L675.6 474.94 L677.6 475.49 L679.6 476.05 L681.6 476.63 L683.6 477.22 L685.6 477.83 L687.6 478.46 L689.6 479.09 L691.6 479.75 L693.6 480.42 L695.6 481.10 L697.6 481.80 L699.6 482.52 L701.6 483.25 L703.6 484.00 L705.6 484.76 L707.6 485.54 L709.6 486.34 L711.6 487.16 L713.6 487.99 L715.6 488.84 L717.6 489.70 L719.6 490.59 L721.6 491.49 L723.6 492.41 L725.6 493.35 L727.6 494.30 L729.6 495.28 L731.6 496.27 L733.6 497.28 L735.6 498.31 L737.6 499.36 L739.6 500.43 L741.6 501.52 L743.6 502.63 L745.6 503.75 L747.6 504.90 L749.6 506.07 L751.6 507.26 L753.6 508.46 L755.6 509.69 L757.6 510.94 L759.6 512.21 L761.6 513.50 L763.6 514.81 L765.6 516.15 L767.6 517.50 L769.6 518.88 L771.6 520.28 L773.6 521.70 L775.6 523.14 L777.6 524.60 L779.6 526.09 L781.6 527.60 L783.6 529.13 L785.6 530.69 L787.6 532.27 L789.6 533.87 L791.6 535.49 L793.6 537.14 L795.6 538.81 L797.6 540.51 L799.6 542.23 L801.6 543.98 L803.6 545.75 L805.6 547.55 L807.6 549.37 L809.6 551.22 L811.6 553.09 L813.6 554.99 L815.6 556.92 L817.6 558.88 L819.6 560.86 L821.6 562.87 L823.6 564.91 L825.6 566.97 L827.6 569.07 L829.6 571.19 L831.6 573.34 L833.6 575.52 L835.6 577.73 L837.6 579.97 L839.6 582.24 L841.6 584.54 L843.6 586.87 L845.6 589.23 L847.6 591.63 L849.6 594.05 L851.6 596.50 L853.6 598.98 L855.6 601.47 L857.6 603.97 L859.6 606.48 L861.6 609.00 L863.6 611.51 L865.6 614.01 L867.6 616.50 L869.6 618.97 L871.6 621.42 L873.6 623.84 L875.6 626.22 L877.6 628.56 L879.6 630.85 L881.6 633.07 L883.6 635.22 L885.6 637.28 L887.6 639.26 L889.6 641.14 L891.6 642.93 L893.6 644.64 L895.6 646.27 L897.6 647.81 L899.6 649.27 L901.6 650.65 L903.6 651.96 L905.6 653.19 L907.6 654.35 L909.6 655.43 L911.6 656.45 L913.6 657.40 L915.6 658.29 L917.6 659.11 L919.6 659.87 L921.6 660.57 L923.6 661.22 L925.6 661.81 L927.6 662.35 L929.6 662.83 L931.6 663.27 L933.6 663.66 L935.6 664.00 L937.6 664.30 L939.6 664.56 L941.6 664.78 L943.6 664.96 L945.6 665.11 L947.6 665.22 L949.6 665.30 L951.6 665.36 L953.6 665.38 L955.6 665.38 L957.6 665.35 L959.6 665.31 L961.6 665.24 L963.6 665.15 L965.6 665.05 L967.6 664.94 L969.6 664.81 L971.6 664.67 L973.6 664.53 L975.6 664.38 L977.6 664.22 L979.6 664.07 L981.6 663.91 L983.6 663.75 L985.6 663.60 L987.6 663.46 L989.6 663.32 L991.6 663.19 L993.6 663.07 L995.6 662.97 L997.6 662.88 L999.6 662.81 L1001.6 662.76 L1003.6 662.73 L1005.6 662.72 L1007.6 662.74 L1009.6 662.79 L1011.6 662.86 L1013.6 662.97 L1015.6 663.11 L1017.6 663.29 L1018.0 663.33" stroke="#fff"/>
</g>
<path d="M579.8 22.2L580.95 712" stroke="#000" stroke-width="5.7" stroke-dasharray="16.2 16" fill="none"/>
<rect x="221.9" y="114.1" width="242.2" height="77.1" fill="#d4d0c8" stroke="#000" stroke-width="1.6"/>
<text transform="translate(234.70 163.00) scale(1 1.02)" font-size="48.5">G</text>
<rect x="271.33" y="140.80" width="25.2" height="2.0" fill="#000"/>
<rect x="271.33" y="148.70" width="25.2" height="2.0" fill="#000"/>
<rect x="299.08" y="145.60" width="24.70" height="2.6" fill="#000"/>
<text transform="translate(324.43 163.00) scale(1 1.02)" font-size="48.5">59 dB</text>
<path d="M580.0 194.0L486.1 166.3" stroke="#000" stroke-width="4.6" fill="none"/>
<path d="M469.3 161.3L498.8 158.5L488.0 166.8L492.6 179.6Z" fill="#000" stroke="#000" stroke-width="3.2" stroke-linejoin="round"/>
<rect x="653.6" y="626.8" width="224.4" height="67" fill="#d4d0c8" stroke="#000" stroke-width="1.4"/>
<text transform="translate(666.40 676.60) scale(1 1.02)" font-size="48.5">F</text>
<rect x="694.97" y="654.40" width="25.2" height="2.0" fill="#000"/>
<rect x="694.97" y="662.30" width="25.2" height="2.0" fill="#000"/>
<text transform="translate(720.73 676.60) scale(1 1.02)" font-size="48.5">100 Hz</text>
<path d="M583.4 707.6L625.9 678.4" stroke="#000" stroke-width="4.6" fill="none"/>
<path d="M641.5 667.6L624.4 692.1L624.2 679.5L612.5 674.8Z" fill="#000" stroke="#000" stroke-width="3.2" stroke-linejoin="round"/>
<text transform="translate(136.00 38.90) scale(1 1.016)" font-size="48.5" text-anchor="end">50</text>
<text transform="translate(136.00 117.90) scale(1 1.016)" font-size="48.5" text-anchor="end">0</text>
<text transform="translate(136.00 196.90) scale(1 1.016)" font-size="48.5" text-anchor="end">50</text>
<rect x="61.65" y="179.40" width="25.40" height="2.6" fill="#000"/>
<text transform="translate(136.00 275.80) scale(1 1.016)" font-size="48.5" text-anchor="end">100</text>
<rect x="37.40" y="258.30" width="25.40" height="2.6" fill="#000"/>
<text transform="translate(136.00 354.80) scale(1 1.016)" font-size="48.5" text-anchor="end">150</text>
<rect x="37.40" y="337.30" width="25.40" height="2.6" fill="#000"/>
<text transform="translate(136.00 425.70) scale(1 1.016)" font-size="48.5" text-anchor="end">135</text>
<text transform="translate(136.00 475.90) scale(1 1.016)" font-size="48.5" text-anchor="end">90</text>
<text transform="translate(136.00 526.00) scale(1 1.016)" font-size="48.5" text-anchor="end">45</text>
<text transform="translate(136.00 576.10) scale(1 1.016)" font-size="48.5" text-anchor="end">0</text>
<text transform="translate(136.00 626.20) scale(1 1.016)" font-size="48.5" text-anchor="end">45</text>
<rect x="61.65" y="608.70" width="25.40" height="2.6" fill="#000"/>
<text transform="translate(136.00 676.40) scale(1 1.016)" font-size="48.5" text-anchor="end">90</text>
<rect x="61.65" y="658.90" width="25.40" height="2.6" fill="#000"/>
<text transform="translate(136.00 726.60) scale(1 1.016)" font-size="48.5" text-anchor="end">135</text>
<rect x="37.40" y="709.10" width="25.40" height="2.6" fill="#000"/>
<text transform="translate(258.10 774.40) scale(1 1.016)" font-size="48.5" letter-spacing="-1.6">10</text>
<text transform="translate(304.80 745.80) scale(1 1.0)" font-size="33.5">0</text>
<text transform="translate(549.00 774.40) scale(1 1.016)" font-size="48.5" letter-spacing="-1.6">10</text>
<text transform="translate(595.20 745.80) scale(1 1.0)" font-size="33.5">2</text>
<text transform="translate(839.80 774.40) scale(1 1.016)" font-size="48.5" letter-spacing="-1.6">10</text>
<text transform="translate(886.20 745.80) scale(1 1.0)" font-size="33.5">4</text>
<text transform="translate(427.60 819.60) scale(1 1.025)" font-size="48.5">Frequency [Hz]</text>
<text transform="translate(44.00 259.50) rotate(-90) scale(1 1.02)" font-size="48.1">Gain [dB]</text>
<text transform="translate(41.90 663.00) rotate(-90) scale(1 1.02)" font-size="48.1">Phase [deg]</text>
<rect x="736.4" y="211.7" width="280" height="254.9" fill="#d4d0c8" stroke="#000" stroke-width="1.4"/>
<g stroke-width="5.8" fill="none"><path d="M752.3 257H834.9" stroke="#000"/><path d="M752.3 339.1H834.9" stroke="#808080"/><path d="M752.3 420.4H834.9" stroke="#fff"/></g>
<text transform="translate(843.20 263.60) scale(1 1.014)" font-size="48.5">Tv</text>
<text transform="translate(895.40 287.70) scale(1 1.025)" font-size="38">PV</text>
<rect x="944.88" y="273.35" width="19.40" height="2.1" fill="#000"/>
<text transform="translate(965.41 287.70) scale(1 1.025)" font-size="38">D</text>
<text transform="translate(843.20 345.30) scale(1 1.014)" font-size="48.5">Tv</text>
<text transform="translate(895.40 369.40) scale(1 1.025)" font-size="38">PV</text>
<rect x="944.88" y="355.05" width="19.40" height="2.1" fill="#000"/>
<text transform="translate(965.41 369.40) scale(1 1.025)" font-size="38">Isc</text>
<text transform="translate(843.20 427.00) scale(1 1.014)" font-size="48.5">Tv</text>
<text transform="translate(895.40 451.10) scale(1 1.025)" font-size="38">PV</text>
<rect x="944.88" y="436.75" width="19.40" height="2.1" fill="#000"/>
<text transform="translate(965.41 451.10) scale(1 1.025)" font-size="38">Vb</text>
</svg>
</body></html>
